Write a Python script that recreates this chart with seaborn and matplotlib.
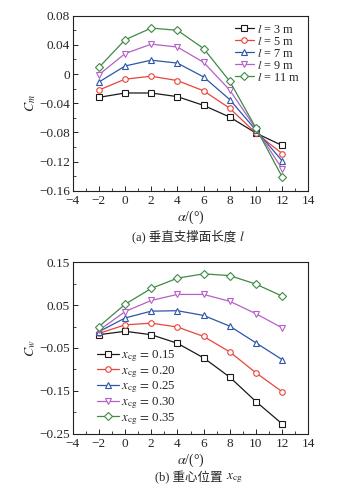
import numpy as np
import pandas as pd
import seaborn as sns
import matplotlib.pyplot as plt
from matplotlib.ticker import MultipleLocator, FuncFormatter

# Data
alpha = [-2, 0, 2, 4, 6, 8, 10, 12]

l_labels = ["3", "5", "7", "9", "11"]
cm_l3 = [-0.032, -0.026, -0.026, -0.031, -0.043, -0.059, -0.081, -0.098]
cm_l5 = [-0.022, -0.007, -0.003, -0.009, -0.023, -0.047, -0.081, -0.109]
cm_l7 = [-0.011, 0.011, 0.019, 0.015, -0.004, -0.035, -0.077, -0.119]
cm_l9 = [-0.001, 0.028, 0.041, 0.037, 0.016, -0.022, -0.075, -0.130]
cm_l11 = [0.009, 0.047, 0.063, 0.060, 0.035, -0.010, -0.074, -0.141]

xcg_labels = ["0.15", "0.20", "0.25", "0.30", "0.35"]
cw_15 = [-0.019, -0.011, -0.019, -0.039, -0.073, -0.118, -0.175, -0.227]
cw_20 = [-0.016, 0.004, 0.008, -0.001, -0.023, -0.059, -0.108, -0.152]
cw_25 = [-0.012, 0.020, 0.036, 0.037, 0.026, 0.001, -0.038, -0.077]
cw_30 = [-0.009, 0.035, 0.061, 0.075, 0.075, 0.059, 0.030, -0.003]
cw_35 = [0.000, 0.052, 0.089, 0.113, 0.123, 0.119, 0.099, 0.071]

colors = ["#1a1a1a", "#e8443c", "#2d56a8", "#b560c8", "#3f8a45"]
markers = ["s", "o", "^", "v", "D"]

sns.set_theme(style="ticks")
plt.rcParams["font.family"] = ["Liberation Serif", "Noto Sans CJK SC"]
plt.rcParams["mathtext.fontset"] = "stix"
plt.rcParams["font.size"] = 9

fig = plt.figure(figsize=(3.39, 5.0), dpi=100)
ax1 = fig.add_axes([72.7 / 339, 1 - 190.7 / 500, (308.3 - 72.7) / 339, (190.7 - 15.7) / 500])
ax2 = fig.add_axes([72.7 / 339, 1 - 433.7 / 500, (308.3 - 72.7) / 339, (433.7 - 262.3) / 500])

df1 = pd.DataFrame({"alpha": alpha * 5,
                    "cm": cm_l3 + cm_l5 + cm_l7 + cm_l9 + cm_l11,
                    "grp": np.repeat(l_labels, len(alpha))})
df2 = pd.DataFrame({"alpha": alpha * 5,
                    "cw": cw_15 + cw_20 + cw_25 + cw_30 + cw_35,
                    "grp": np.repeat(xcg_labels, len(alpha))})


def minus(v, fmt):
    if abs(v) < 1e-9:
        return "0"
    return (fmt % v).replace("-", "\u2212")


for ax, df, ycol, labels in [(ax1, df1, "cm", l_labels), (ax2, df2, "cw", xcg_labels)]:
    for i, g in enumerate(labels):
        d = df[df["grp"] == g]
        sns.lineplot(data=d, x="alpha", y=ycol, ax=ax, color=colors[i], lw=0.9,
                     marker=markers[i], markersize=4 if markers[i] != "D" else 3.6,
                     markerfacecolor="white", markeredgecolor=colors[i],
                     markeredgewidth=0.8)
    ax.set_xlim(-4, 14)
    ax.xaxis.set_major_locator(MultipleLocator(2))
    ax.xaxis.set_minor_locator(MultipleLocator(1))
    ax.xaxis.set_major_formatter(FuncFormatter(lambda v, p: minus(v, "%d")))
    ax.yaxis.set_major_formatter(FuncFormatter(lambda v, p: minus(v, "%.2f")))
    ax.tick_params(which="both", direction="in", top=False, right=False,
                   labelsize=9.5, pad=2)
    ax.tick_params(axis="x", pad=3)
    ax.tick_params(which="major", length=3.5, width=0.7)
    ax.tick_params(which="minor", length=2, width=0.6)
    for s in ax.spines.values():
        s.set_linewidth(0.8)
        s.set_color("#222222")
    ax.set_xlabel(r"$\alpha$/(°)", fontsize=10, labelpad=1)

ax1.set_ylim(-0.16, 0.08)
ax1.yaxis.set_major_locator(MultipleLocator(0.04))
ax1.yaxis.set_minor_locator(MultipleLocator(0.02))
ax1.set_ylabel(r"$C_m$", fontsize=10, labelpad=1)

ax2.set_ylim(-0.25, 0.15)
ax2.yaxis.set_major_locator(MultipleLocator(0.1, offset=0.05))
ax2.yaxis.set_minor_locator(MultipleLocator(0.05))
ax2.set_ylabel(r"$C_w$", fontsize=10, labelpad=1)

h1 = ax1.get_lines()[:5]
ax1.legend(h1, [r"$l$ = %s m" % s for s in l_labels], loc="upper right",
           frameon=False, fontsize=8.8, handlelength=1.6, handletextpad=0.25,
           labelspacing=0.0, borderaxespad=0.25)
h2 = ax2.get_lines()[:5]
ax2.legend(h2, [r"$x_{\rm cg}\,=\,$%s" % s for s in xcg_labels], loc="lower left",
           frameon=False, fontsize=9.3, handlelength=1.7, handletextpad=0.2,
           labelspacing=0.0, borderaxespad=0.0, bbox_to_anchor=(0.08, 0.01))

# captions: Chinese text and italic symbol drawn as separate pieces
fig.text(0.706, 1 - 236.7 / 500, "(a) 垂直支撑面长度 ", ha="right", va="center", fontsize=9)
fig.text(0.706, 1 - 236.7 / 500, "$l$", ha="left", va="center", fontsize=9.5)
fig.text(0.667, 1 - 478 / 500, "(b) 重心位置 ", ha="right", va="center", fontsize=9)
fig.text(0.667, 1 - 478 / 500, r"$x_{\rm cg}$", ha="left", va="center", fontsize=9.5)

fig.savefig("out.png", dpi=100)
